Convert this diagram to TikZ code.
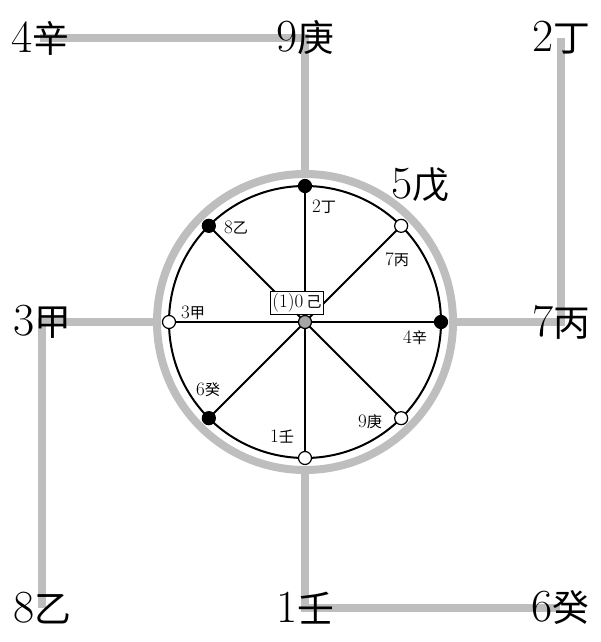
\documentclass[tikz,border=0pt]{standalone}
\usepackage{fontspec}
\usepackage{tikz}
\usetikzlibrary{backgrounds}
\newfontfamily\cjk[Scale=0.8]{Noto Sans CJK SC}
\definecolor{grey}{RGB}{190,190,190}
\definecolor{darkgrey}{RGB}{165,165,165}
\newcommand{\stem}[2]{#1{\cjk #2}}

\begin{document}
\begin{tikzpicture}[x=1pt,y=-1pt,
    big/.style={font=\fontsize{46}{46}\selectfont, inner sep=0pt},
    small/.style={font=\fontsize{19}{19}\selectfont, inner sep=0pt},
    wire/.style={grey, line width=8pt},
    dot/.style={circle, draw, line width=1.2pt, minimum size=13pt, inner sep=0pt}]
  \useasboundingbox (0,0) rectangle (600,642);
  \coordinate (o) at (305,322);
  % rings
  \node[circle, draw=grey, line width=8pt, minimum size=296pt, inner sep=0pt] (ring) at (o) {};
  \node[circle, draw, line width=2pt, minimum size=272pt, inner sep=0pt, outer sep=0pt] (wheel) at (o) {};
  % spokes and the dots on the wheel
  \foreach \a/\c in {90/black,135/black,0/black,225/black,45/white,180/white,315/white,270/white}{
    \draw[line width=1.8pt] (o) -- (wheel.\a);
    \node[dot, fill=\c] (p\a) at (wheel.\a) {};
  }
  \node[dot, fill=darkgrey] (hub) at (o) {};
  \node[small, draw, fill=white, line width=0.8pt, inner sep=2pt] (ji) at (297,303) {(1)0\,{\cjk 己}};
  % small labels on the wheel
  \path[small]
    (324,207) node (s2) {\stem{2}{丁}}
    (236,228) node (s8) {\stem{8}{乙}}
    (397,260) node (s7) {\stem{7}{丙}}
    (193,313) node (s3) {\stem{3}{甲}}
    (415,338) node (s4) {\stem{4}{辛}}
    (208,390) node (s6) {\stem{6}{癸}}
    (370,422) node (s9) {\stem{9}{庚}}
    (282,437) node (s1) {\stem{1}{壬}};
  % big labels round the square
  \path[big]
    (40,38) node (xin) {\stem{4}{辛}}
    (305,38) node (geng) {\stem{9}{庚}}
    (561,38) node (ding) {\stem{2}{丁}}
    (420,185) node (wu) {\stem{5}{戊}}
    (42,322) node (jia) {\stem{3}{甲}}
    (561,322) node (bing) {\stem{7}{丙}}
    (42,608) node (yi) {\stem{8}{乙}}
    (305,608) node (ren) {\stem{1}{壬}}
    (560,608) node (gui) {\stem{6}{癸}};
  % grey lines behind the labels
  \begin{scope}[on background layer]
    \draw[wire] (xin.center) -- (geng.center) -- (ring.north);
    \draw[wire] (ding.center) -- (bing.center) -- (ring.east);
    \draw[wire] (ring.west) -- (jia.center) -- (yi.center);
    \draw[wire] (ring.south) -- (ren.center) -- (gui.center);
  \end{scope}
\end{tikzpicture}
\end{document}
